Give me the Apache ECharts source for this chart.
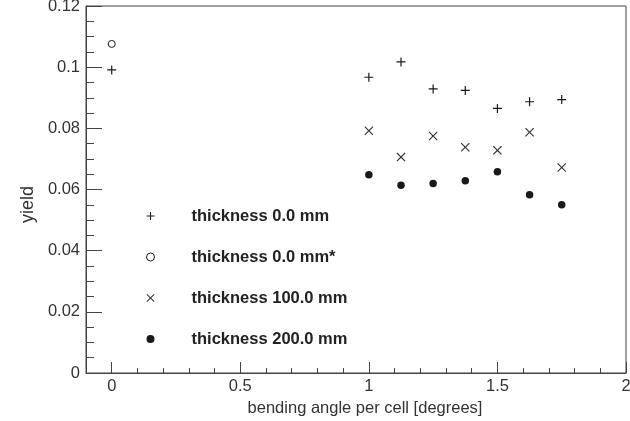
<html>
<head>
    <meta charset="utf-8">
    <title>yield vs bending angle</title>
    <script src="https://cdn.jsdelivr.net/npm/echarts@6/dist/echarts.min.js"></script>
</head>
<body style="margin:0">
    <div id="main" style="width:630px;height:421px"></div>
    <script type="text/javascript">
        // data
        var angles = [1, 1.125, 1.25, 1.375, 1.5, 1.625, 1.75];
        var yield0 = [0.0967, 0.1017, 0.0929, 0.0924, 0.0865, 0.0887, 0.0894];
        var yield0At0 = 0.0991;
        var yield0StarAt0 = 0.1076;
        var yield100 = [0.0792, 0.0706, 0.0775, 0.0738, 0.0728, 0.0787, 0.0672];
        var yield200 = [0.0648, 0.0614, 0.0620, 0.0629, 0.0658, 0.0583, 0.0550];
        var names = ['thickness 0.0 mm', 'thickness 0.0 mm*', 'thickness 100.0 mm', 'thickness 200.0 mm'];
        var majorX = [0, 0.5, 1, 1.5, 2];
        var minorX = [0.1, 0.2, 0.3, 0.4, 0.6, 0.7, 0.8, 0.9, 1.1, 1.2, 1.3, 1.4, 1.6, 1.7, 1.8, 1.9];

        function pairs(xs, ys) {
            var out = [];
            for (var i = 0; i < xs.length; i++) out.push([xs[i], ys[i]]);
            return out;
        }

        var plus = 'path://M3.9,0H5.1V3.9H9V5.1H5.1V9H3.9V5.1H0V3.9H3.9Z';
        var cross = 'path://M0.8,0L4.5,3.7L8.2,0L9,0.8L5.3,4.5L9,8.2L8.2,9L4.5,5.3L0.8,9L0,8.2L3.7,4.5L0,0.8Z';
        var ink = '#1a1a1a';
        var font = 'Liberation Sans, Arial, Helvetica, sans-serif';

        var myChart = echarts.init(document.getElementById('main'));
        var option = {
            animation: false,
            backgroundColor: '#fff',
            grid: {
                left: 86, right: 4, top: 6, bottom: 48,
                outerBoundsMode: 'none', containLabel: false,
                show: true, borderColor: '#444', borderWidth: 1
            },
            legend: {
                orient: 'vertical',
                left: 146, top: 206,
                padding: 0,
                itemWidth: 8, itemHeight: 8,
                itemGap: 21,
                textStyle: {
                    fontFamily: font, fontSize: 16.5, fontWeight: 'bold', color: '#222',
                    lineHeight: 20, padding: [0, 0, 0, 32]
                },
                data: [
                    {name: names[0], icon: plus},
                    {name: names[1], itemStyle: {borderWidth: 1}},
                    {name: names[2], icon: cross},
                    {name: names[3]}
                ]
            },
            xAxis: [
                {
                    type: 'value', min: -0.1, max: 2,
                    name: 'bending angle per cell [degrees]',
                    nameLocation: 'middle', nameGap: 25,
                    nameTextStyle: {fontFamily: font, fontSize: 16.5, color: '#333', padding: [0, 0, 0, 18]},
                    axisLine: {onZero: false, lineStyle: {color: '#444'}},
                    axisTick: {inside: true, length: 11, customValues: majorX, lineStyle: {color: '#444'}},
                    axisLabel: {customValues: majorX, margin: 5, fontFamily: font, fontSize: 16.5, color: '#333',
                        formatter: function (v) { return String(+v.toFixed(1)); }},
                    splitLine: {show: false}
                },
                {
                    type: 'value', min: -0.1, max: 2, position: 'bottom',
                    axisLine: {show: false, onZero: false},
                    axisTick: {inside: true, length: 5, customValues: minorX, lineStyle: {color: '#444'}},
                    axisLabel: {show: false},
                    splitLine: {show: false}
                }
            ],
            yAxis: {
                type: 'value', min: 0, max: 0.12, interval: 0.02,
                name: 'yield', nameLocation: 'middle', nameGap: 48, nameRotate: 90,
                nameTextStyle: {fontFamily: font, fontSize: 18, color: '#333', padding: [0, 30, 0, 0]},
                axisLine: {onZero: false, lineStyle: {color: '#444'}},
                axisTick: {inside: true, length: 16, lineStyle: {color: '#444'}},
                minorTick: {show: true, splitNumber: 4, length: 8, lineStyle: {color: '#444'}},
                axisLabel: {margin: 6, fontFamily: font, fontSize: 16.5, color: '#333',
                    formatter: function (v) { return String(+v.toFixed(2)); }},
                splitLine: {show: false}
            },
            series: [
                {
                    name: names[0], type: 'scatter', symbol: plus, symbolSize: 9,
                    itemStyle: {color: ink, opacity: 1},
                    data: [[0, yield0At0]].concat(pairs(angles, yield0))
                },
                {
                    name: names[1], type: 'scatter', symbol: 'circle', symbolSize: 7,
                    itemStyle: {color: '#fff', borderColor: ink, borderWidth: 1, opacity: 1},
                    data: [[0, yield0StarAt0]]
                },
                {
                    name: names[2], type: 'scatter', symbol: cross, symbolSize: 9,
                    itemStyle: {color: '#333', opacity: 1},
                    data: pairs(angles, yield100)
                },
                {
                    name: names[3], type: 'scatter', symbol: 'circle', symbolSize: 7.5,
                    itemStyle: {color: ink, opacity: 1},
                    data: pairs(angles, yield200)
                }
            ]
        };
        myChart.setOption(option);
    </script>
</body>
</html>
